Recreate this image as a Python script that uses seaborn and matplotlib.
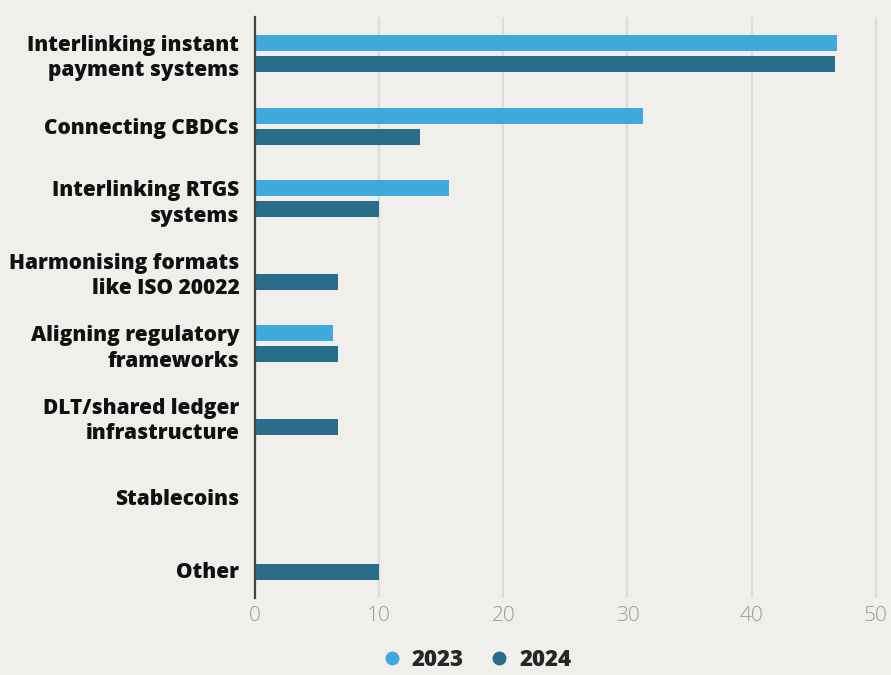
import matplotlib
matplotlib.use("Agg")
import matplotlib.pyplot as plt
import matplotlib.transforms as mtransforms
from matplotlib.lines import Line2D
import seaborn as sns
import pandas as pd

categories = [
    "Interlinking instant\npayment systems",
    "Connecting CBDCs",
    "Interlinking RTGS\nsystems",
    "Harmonising formats\nlike ISO 20022",
    "Aligning regulatory\nframeworks",
    "DLT/shared ledger\ninfrastructure",
    "Stablecoins",
    "Other",
]
values_2023 = [46.9, 31.25, 15.6, 0, 6.25, 0, 0, 0]
values_2024 = [46.7, 13.3, 10.0, 6.7, 6.7, 6.7, 0, 10.0]
years = ["2023", "2024"]
x_ticks = [0, 10, 20, 30, 40, 50]

bg = "#f0efeb"
palette = {"2023": "#3fa9de", "2024": "#286d8a"}

df = pd.DataFrame({
    "category": categories * 2,
    "value": values_2023 + values_2024,
    "year": [years[0]] * len(categories) + [years[1]] * len(categories),
})

sns.set_theme(style="white")
plt.rcParams["font.family"] = ["Open Sans", "DejaVu Sans"]

fig = plt.figure(figsize=(8.91, 6.75), dpi=100, facecolor=bg)
ax = fig.add_axes([0.2865, 0.114, 0.9966 - 0.2865, 0.9745 - 0.114])
ax.set_facecolor(bg)

sns.barplot(data=df, y="category", x="value", hue="year", orient="h",
            palette=palette, saturation=1, width=0.58, gap=0.24,
            order=categories, hue_order=years, legend=False, ax=ax,
            linewidth=0, zorder=3)

ax.set_xlim(0, 51)
ax.set_xticks(x_ticks)
ax.set_xticklabels([str(t) for t in x_ticks], color="#9a9a9a", fontsize=15,
                   fontweight="light")
ax.xaxis.grid(True, color="#dcdcdc", linewidth=1.6, zorder=0)
ax.yaxis.grid(False)
ax.set_axisbelow(True)
ax.tick_params(axis="both", length=0)
ax.tick_params(axis="x", pad=6)
ax.tick_params(axis="y", pad=11.5)
for lbl in ax.get_yticklabels():
    lbl.set_fontweight("heavy")
    lbl.set_fontsize(15)
    lbl.set_color("#111111")
    lbl.set_linespacing(1.27)
# nudge the last two single-line labels down slightly
for lbl in ax.get_yticklabels()[-2:]:
    lbl.set_transform(lbl.get_transform() +
                      mtransforms.ScaledTranslation(0, -8 / 100, fig.dpi_scale_trans))
ax.set_xlabel("")
ax.set_ylabel("")
for side in ["top", "right", "bottom"]:
    ax.spines[side].set_visible(False)
ax.spines["left"].set_color("#444444")
ax.spines["left"].set_linewidth(1.6)
ax.spines["left"].set_zorder(5)

handles = [Line2D([0], [0], marker="o", linestyle="", markersize=9,
                  markerfacecolor=palette[y], markeredgecolor=palette[y]) for y in years]
fig.legend(handles, years, loc="center", bbox_to_anchor=(0.533, 0.022),
           ncol=2, frameon=False, handletextpad=0.3, columnspacing=1.0,
           handlelength=1.2, prop={"weight": "heavy", "size": 16})

fig.savefig("out.png", dpi=100, facecolor=bg)
